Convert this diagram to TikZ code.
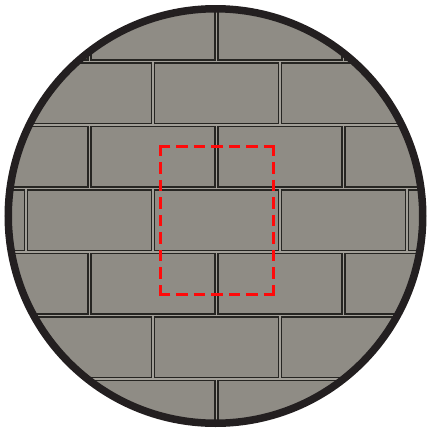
\documentclass[tikz,border=0pt]{standalone}
\definecolor{brickfill}{HTML}{8F8C85}
\definecolor{mortar}{HTML}{A29F98}
\definecolor{brickedge}{HTML}{262522}
\definecolor{ringcol}{HTML}{231F20}
\definecolor{cutred}{HTML}{FF0A0A}
\begin{document}
\begin{tikzpicture}[x=1pt,y=-1pt,
  brickbox/.style={fill=brickfill, draw=brickedge, line width=1.35pt},
  redline/.style={draw=cutred, line width=3pt},
  redcorner/.style={redline, line join=miter},
  reddash/.style={redline, dash pattern=on 11.5pt off 6pt}]
\useasboundingbox (0,0) rectangle (427,429);
% bricks clipped to the disc
\begin{scope}
  \clip (215.5,216) circle[radius=205pt];
  \fill[mortar] (0,0) rectangle (427,429);
  \foreach \r in {0,...,6}{
    \pgfmathsetmacro{\yy}{-2+63.5*\r}
    \pgfmathsetmacro{\off}{mod(\r,2)==0 ? -37.5 : -101}
    \foreach \c in {0,...,4}{
      \pgfmathsetmacro{\xx}{\off+127*\c}
      \draw[brickbox] (\xx+1.35,\yy+1.35) rectangle (\xx+125.65,\yy+62.15);
    }
  }
\end{scope}
% ring
\draw[ringcol, line width=7.5pt] (215.5,216) circle[radius=207.25pt];
% red dashed rectangle: corners
\coordinate (tl) at (160.8,146.8);
\coordinate (tr) at (273.5,146.8);
\coordinate (br) at (273.5,294.5);
\coordinate (bl) at (160.8,294.5);
\draw[redcorner] ([xshift=9.6pt]tl) -- (tl) -- ([yshift=-9.6pt]tl);
\draw[redcorner] ([xshift=-9.6pt]tr) -- (tr) -- ([yshift=-9.6pt]tr);
\draw[redcorner] ([xshift=-9.6pt]br) -- (br) -- ([yshift=9.6pt]br);
\draw[redcorner] ([xshift=9.6pt]bl) -- (bl) -- ([yshift=9.6pt]bl);
% red dashed rectangle: sides
\draw[reddash] ([xshift=15.6pt]tl) -- ([xshift=-15.6pt]tr);
\draw[reddash] ([xshift=15.6pt]bl) -- ([xshift=-15.6pt]br);
\draw[reddash] ([yshift=-15.6pt]tl) -- ([yshift=15.6pt]bl);
\draw[reddash] ([yshift=-15.6pt]tr) -- ([yshift=15.6pt]br);
\end{tikzpicture}
\end{document}
